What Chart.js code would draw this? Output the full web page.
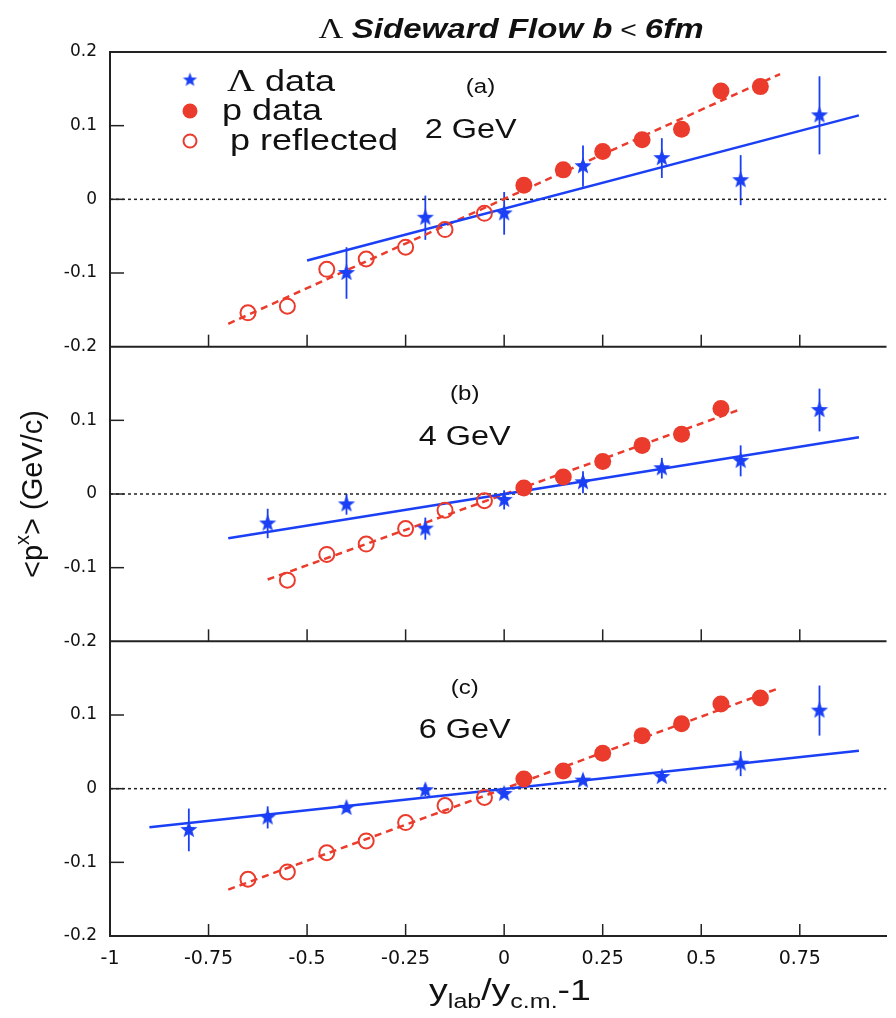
<!DOCTYPE html>
<html>
<head>
<meta charset="utf-8">
<script src="https://cdn.jsdelivr.net/npm/chart.js@4.4.1/dist/chart.umd.min.js"></script>
<style>
    html, body { margin: 0; padding: 0; background: #fff; overflow: hidden; }
    canvas { display: block; }
</style>
</head>
<body>
<canvas id="flowChart" width="896" height="1018"></canvas>
<script>
// === Axis ticks ===
const xTicks = [-1, -0.75, -0.5, -0.25, 0, 0.25, 0.5, 0.75];
const yTicks = [-0.2, -0.1, 0, 0.1, 0.2];

// === (a) 2 GeV ===
const lambdaXA = [-0.4, -0.2, 0, 0.2, 0.4, 0.6, 0.8];
const lambdaYA = [-0.100, -0.025, -0.019, 0.045, 0.056, 0.026, 0.114];
const lambdaErrA = [0.035, 0.030, 0.029, 0.028, 0.027, 0.034, 0.053];
const protonXA = [0.05, 0.15, 0.25, 0.35, 0.45, 0.55, 0.65];
const protonYA = [0.019, 0.040, 0.065, 0.081, 0.095, 0.147, 0.153];
const reflXA = [-0.05, -0.15, -0.25, -0.35, -0.45, -0.55, -0.65];
const reflYA = [-0.019, -0.041, -0.065, -0.081, -0.095, -0.145, -0.154];
const lambdaFitXA = [-0.5, 0.9];
const lambdaFitYA = [-0.083, 0.114];
const protonFitXA = [-0.7, 0.7];
const protonFitYA = [-0.169, 0.170];

// === (b) 4 GeV ===
const lambdaXB = [-0.6, -0.4, -0.2, 0, 0.2, 0.4, 0.6, 0.8];
const lambdaYB = [-0.040, -0.014, -0.047, -0.008, 0.016, 0.035, 0.045, 0.114];
const lambdaErrB = [0.020, 0.014, 0.015, 0.013, 0.015, 0.014, 0.021, 0.029];
const protonXB = [0.05, 0.15, 0.25, 0.35, 0.45, 0.55];
const protonYB = [0.008, 0.023, 0.044, 0.066, 0.081, 0.116];
const reflXB = [-0.05, -0.15, -0.25, -0.35, -0.45, -0.55];
const reflYB = [-0.009, -0.022, -0.047, -0.068, -0.082, -0.117];
const lambdaFitXB = [-0.7, 0.9];
const lambdaFitYB = [-0.060, 0.077];
const protonFitXB = [-0.6, 0.6];
const protonFitYB = [-0.116, 0.115];

// === (c) 6 GeV ===
const lambdaXC = [-0.8, -0.6, -0.4, -0.2, 0, 0.2, 0.4, 0.6, 0.8];
const lambdaYC = [-0.056, -0.039, -0.026, -0.002, -0.007, 0.011, 0.016, 0.034, 0.106];
const lambdaErrC = [0.029, 0.015, 0.006, 0.008, 0.004, 0.004, 0.004, 0.017, 0.034];
const protonXC = [0.05, 0.15, 0.25, 0.35, 0.45, 0.55, 0.65];
const protonYC = [0.013, 0.024, 0.048, 0.072, 0.088, 0.115, 0.123];
const reflXC = [-0.05, -0.15, -0.25, -0.35, -0.45, -0.55, -0.65];
const reflYC = [-0.012, -0.023, -0.046, -0.071, -0.087, -0.113, -0.123];
const lambdaFitXC = [-0.9, 0.9];
const lambdaFitYC = [-0.0525, 0.0516];
const protonFitXC = [-0.7, 0.7];
const protonFitYC = [-0.137, 0.137];

// === Styling ===
const BLUE = '#1a3ff5';
const RED = '#eb3b2c';
const INK = '#222';
const X_MIN = -1;
const X_MAX = 0.97;
const STRETCH = 1.2;   // the source figure is widened horizontally

const pts = (xs, ys) => xs.map((x, i) => ({ x: x, y: ys[i] }));

function makeStar(r) {
    const size = Math.ceil(r * 2 + 2);
    const c = document.createElement('canvas');
    c.width = size; c.height = size;
    const g = c.getContext('2d');
    g.fillStyle = BLUE;
    g.beginPath();
    for (let i = 0; i < 10; i++) {
        const rad = i % 2 === 0 ? r : r * 0.42;
        const a = -Math.PI / 2 + i * Math.PI / 5;
        const px = size / 2 + rad * Math.cos(a);
        const py = size / 2 + rad * Math.sin(a);
        if (i === 0) g.moveTo(px, py); else g.lineTo(px, py);
    }
    g.closePath();
    g.fill();
    return c;
}
const starPlot = makeStar(9);
const starLegend = makeStar(7.5);

const panels = [
    { axis: 'ya', tag: '(a)', energy: '2 GeV', tagY: 0.152, energyY: 0.094, tagX: -0.06, energyX: -0.085,
      lx: lambdaXA, ly: lambdaYA, le: lambdaErrA, px: protonXA, py: protonYA, rx: reflXA, ry: reflYA,
      lfx: lambdaFitXA, lfy: lambdaFitYA, pfx: protonFitXA, pfy: protonFitYA },
    { axis: 'yb', tag: '(b)', energy: '4 GeV', tagY: 0.135, energyY: 0.077, tagX: -0.1, energyX: -0.1,
      lx: lambdaXB, ly: lambdaYB, le: lambdaErrB, px: protonXB, py: protonYB, rx: reflXB, ry: reflYB,
      lfx: lambdaFitXB, lfy: lambdaFitYB, pfx: protonFitXB, pfy: protonFitYB },
    { axis: 'yc', tag: '(c)', energy: '6 GeV', tagY: 0.136, energyY: 0.079, tagX: -0.1, energyX: -0.1,
      lx: lambdaXC, ly: lambdaYC, le: lambdaErrC, px: protonXC, py: protonYC, rx: reflXC, ry: reflYC,
      lfx: lambdaFitXC, lfy: lambdaFitYC, pfx: protonFitXC, pfy: protonFitYC }
];

function panelDatasets(p) {
    return [
        { type: 'line', data: pts([X_MIN, X_MAX], [0, 0]), yAxisID: p.axis, order: 5,
          borderColor: INK, borderWidth: 1.5, borderDash: [3, 3], pointRadius: 0 },
        { type: 'line', data: pts(p.lfx, p.lfy), yAxisID: p.axis, order: 4,
          borderColor: BLUE, borderWidth: 2.5, pointRadius: 0 },
        { type: 'line', data: pts(p.pfx, p.pfy), yAxisID: p.axis, order: 4,
          borderColor: RED, borderWidth: 2.5, borderDash: [7, 5], pointRadius: 0 },
        { type: 'scatter', data: pts(p.rx, p.ry), yAxisID: p.axis, order: 2,
          pointRadius: 7.5, pointBorderWidth: 2, pointBorderColor: RED,
          pointBackgroundColor: 'rgba(255,255,255,0)' },
        { type: 'scatter', data: pts(p.px, p.py), yAxisID: p.axis, order: 2,
          pointRadius: 8.5, pointBorderWidth: 0, pointBackgroundColor: RED, pointBorderColor: RED },
        { type: 'scatter', data: pts(p.lx, p.ly), yAxisID: p.axis, order: 1,
          pointStyle: starPlot, errors: p.le }
    ];
}

function drawRuns(ctx, runs, cx, baseline, sx) {
    ctx.save();
    let total = 0;
    runs.forEach(r => { ctx.font = r.font; r.w = ctx.measureText(r.t).width; total += r.w; });
    ctx.translate(cx, baseline);
    ctx.scale(sx, 1);
    let x = -total / 2;
    ctx.textAlign = 'left';
    ctx.textBaseline = 'alphabetic';
    ctx.fillStyle = '#111';
    runs.forEach(r => {
        ctx.font = r.font;
        ctx.fillText(r.t, x, r.dy || 0);
        x += r.w;
    });
    ctx.restore();
}

function stretchText(ctx, txt, x, y, font, sx, align) {
    ctx.save();
    ctx.font = font;
    ctx.fillStyle = '#111';
    ctx.textAlign = align || 'center';
    ctx.textBaseline = 'middle';
    ctx.translate(x, y);
    ctx.scale(sx, 1);
    ctx.fillText(txt, 0, 0);
    ctx.restore();
}

// === Error bars, drawn under the stars ===
const errorBars = {
    id: 'errorBars',
    beforeDatasetsDraw(chart) {
        const ctx = chart.ctx;
        const xs = chart.scales.x;
        ctx.save();
        ctx.strokeStyle = BLUE;
        ctx.lineWidth = 1.8;
        chart.data.datasets.forEach(ds => {
            if (!ds.errors) return;
            const ys = chart.scales[ds.yAxisID];
            ds.data.forEach((d, i) => {
                const px = xs.getPixelForValue(d.x);
                ctx.beginPath();
                ctx.moveTo(px, ys.getPixelForValue(d.y - ds.errors[i]));
                ctx.lineTo(px, ys.getPixelForValue(d.y + ds.errors[i]));
                ctx.stroke();
            });
        });
        ctx.restore();
    }
};

// === Frames, inside ticks, legend, labels and titles ===
const decorations = {
    id: 'decorations',
    afterDraw(chart) {
        const ctx = chart.ctx;
        const area = chart.chartArea;
        const xs = chart.scales.x;
        ctx.save();
        ctx.strokeStyle = INK;
        ctx.lineWidth = 2;
        panels.forEach(p => {
            const ys = chart.scales[p.axis];
            ctx.beginPath();
            ctx.moveTo(area.left, ys.top);
            ctx.lineTo(area.right, ys.top);
            ctx.stroke();
        });
        ctx.lineWidth = 1.5;
        panels.forEach(p => {
            const ys = chart.scales[p.axis];
            [-0.1, 0, 0.1].forEach(v => {
                const py = ys.getPixelForValue(v);
                ctx.beginPath();
                ctx.moveTo(area.left, py);
                ctx.lineTo(area.left + 14, py);
                ctx.stroke();
            });
            xTicks.slice(1).forEach(v => {
                const px = xs.getPixelForValue(v);
                ctx.beginPath();
                ctx.moveTo(px, ys.bottom);
                ctx.lineTo(px, ys.bottom - 12);
                ctx.stroke();
            });
            stretchText(ctx, p.tag, xs.getPixelForValue(p.tagX), ys.getPixelForValue(p.tagY),
                '20px "Liberation Sans"', STRETCH);
            stretchText(ctx, p.energy, xs.getPixelForValue(p.energyX), ys.getPixelForValue(p.energyY),
                '27px "Liberation Sans"', STRETCH);
        });
        ctx.restore();

        // legend (panel a)
        const lx = area.left + 80;
        const tx = area.left + 115;
        const top = chart.scales.ya.top;
        ctx.save();
        ctx.drawImage(starLegend, lx - starLegend.width / 2, top + 28 - starLegend.height / 2);
        ctx.fillStyle = RED;
        ctx.beginPath(); ctx.arc(lx, top + 59, 7.5, 0, Math.PI * 2); ctx.fill();
        ctx.strokeStyle = RED; ctx.lineWidth = 2;
        ctx.beginPath(); ctx.arc(lx, top + 89, 6.5, 0, Math.PI * 2); ctx.stroke();
        ctx.restore();
        drawRuns(ctx, [{ t: 'Λ', font: '32px "Liberation Serif"' }, { t: ' data', font: '30px "Liberation Sans"' }],
            tx + 56, top + 39, STRETCH);
        drawRuns(ctx, [{ t: 'p data', font: '30px "Liberation Sans"' }], tx + 47, top + 68, STRETCH);
        drawRuns(ctx, [{ t: 'p reflected', font: '30px "Liberation Sans"' }], tx + 89, top + 98, STRETCH);

        // main title
        drawRuns(ctx, [
            { t: 'Λ ', font: '29px "Liberation Serif"' },
            { t: 'Sideward Flow b', font: 'italic bold 28px "Liberation Sans"' },
            { t: ' < ', font: '24px "Liberation Sans"' },
            { t: '6fm', font: 'italic bold 28px "Liberation Sans"' }
        ], 511, 38, 1.18);

        // x title
        drawRuns(ctx, [
            { t: 'y', font: '30px "Liberation Sans"' },
            { t: 'lab', font: '20px "Liberation Sans"', dy: 8 },
            { t: '/y', font: '30px "Liberation Sans"' },
            { t: 'c.m.', font: '20px "Liberation Sans"', dy: 8 },
            { t: '-1', font: '30px "Liberation Sans"' }
        ], 510, 1000, 1.25);

        // y title
        ctx.save();
        ctx.translate(42, 494);
        ctx.rotate(-Math.PI / 2);
        drawRuns(ctx, [
            { t: '<p', font: '29px "Liberation Sans"' },
            { t: 'x', font: '20px "Liberation Sans"', dy: -13 },
            { t: '> (GeV/c)', font: '29px "Liberation Sans"' }
        ], 0, 0, 1);
        ctx.restore();
    }
};

function yAxis(showTop) {
    return {
        type: 'linear',
        position: 'left',
        stack: 'panels',
        stackWeight: 1,
        offset: false,
        min: -0.2,
        max: 0.2,
        grid: { display: false, drawTicks: false },
        border: { display: true, color: INK, width: 2 },
        afterBuildTicks: axis => { axis.ticks = yTicks.map(v => ({ value: v })); },
        afterFit: axis => { axis.width = 110; },
        ticks: {
            padding: 13,
            color: '#111',
            font: { family: 'DejaVu Sans', size: 17 },
            callback: v => (!showTop && v === 0.2) ? '' : String(v)
        }
    };
}

const ctx = document.getElementById('flowChart').getContext('2d');
const flowChart = new Chart(ctx, {
    data: { datasets: panels.flatMap(panelDatasets) },
    plugins: [errorBars, decorations],
    options: {
        responsive: false,
        animation: false,
        devicePixelRatio: 1,
        layout: { padding: { top: 52, left: 0, right: 0, bottom: 0 } },
        plugins: { legend: { display: false }, tooltip: { enabled: false } },
        scales: {
            x: {
                type: 'linear',
                min: X_MIN,
                max: X_MAX,
                grid: { display: false, drawTicks: false },
                border: { display: true, color: INK, width: 2 },
                afterBuildTicks: axis => { axis.ticks = xTicks.map(v => ({ value: v })); },
                afterFit: axis => { axis.height = 82; },
                ticks: {
                    padding: 12,
                    autoSkip: false,
                    maxRotation: 0,
                    color: '#111',
                    font: { family: 'DejaVu Sans', size: 19 },
                    callback: v => String(v)
                }
            },
            // stacked axes are laid out bottom-up, so the lowest panel comes first
            yc: yAxis(false),
            yb: yAxis(false),
            ya: yAxis(true)
        }
    }
});
</script>
</body>
</html>
